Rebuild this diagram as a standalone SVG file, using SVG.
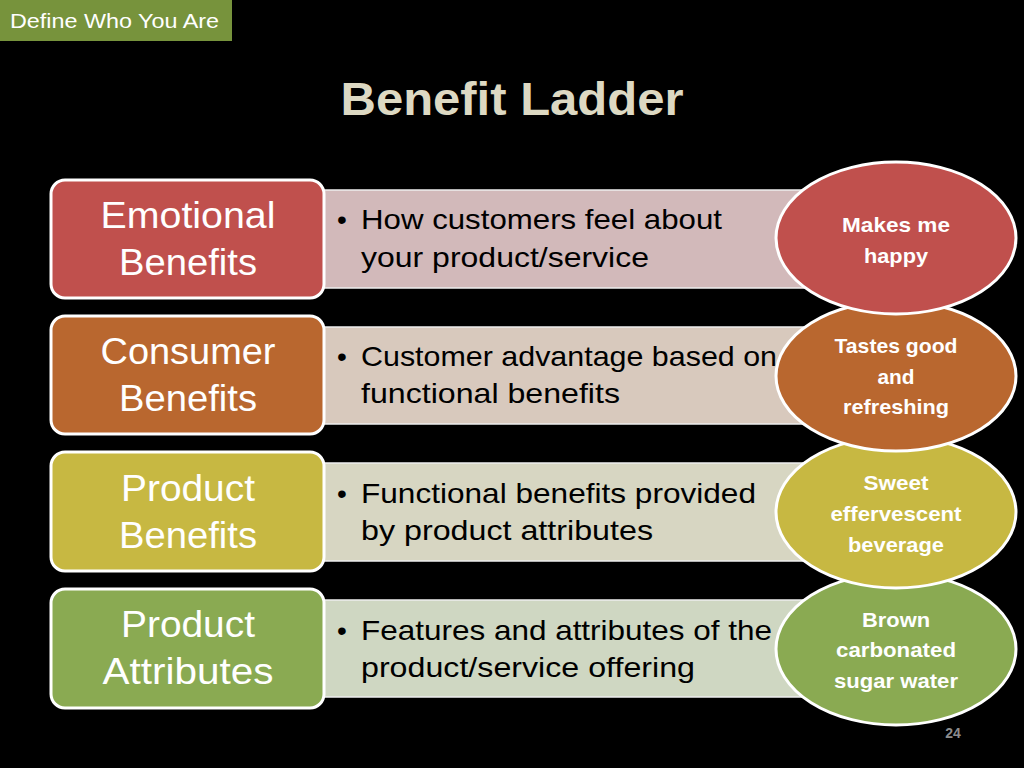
<svg xmlns="http://www.w3.org/2000/svg" width="1024" height="768" viewBox="0 0 1024 768">
<style>
.lbox{stroke:#FFFFFF;stroke-width:3}
.rbox{stroke:#EEEEEE;stroke-width:1.5}
.ell{stroke:#FFFFFF;stroke-width:3}
.lt{font-family:"Liberation Sans",Arial,sans-serif;font-size:36px;fill:#FFFFFF;text-anchor:middle}
.rt{font-family:"Liberation Sans",Arial,sans-serif;font-size:28px;fill:#000000}
.et{font-family:"Liberation Sans",Arial,sans-serif;font-size:21px;font-weight:bold;fill:#FFFFFF;text-anchor:middle}
</style>
<rect x="0" y="0" width="1024" height="768" fill="#000000"/>
<g id="header">
<rect x="0" y="0" width="232" height="41" fill="#77933C"/>
<text x="10" y="28" font-family="Liberation Sans,Arial,sans-serif" font-size="20" fill="#FFFFFF" textLength="209" lengthAdjust="spacingAndGlyphs">Define Who You Are</text>
</g>
<text id="title" x="512" y="115" font-family="Liberation Sans,Arial,sans-serif" font-size="46" font-weight="bold" fill="#DDD9C3" text-anchor="middle" textLength="343" lengthAdjust="spacingAndGlyphs">Benefit Ladder</text>

<g id="row-emotional-desc">
<rect class="rbox" x="300" y="190" width="515" height="98" rx="10" fill="#D2B9BA"/>
<text class="rt" x="337" y="229">•</text>
<text class="rt" x="361" y="229" textLength="361" lengthAdjust="spacingAndGlyphs">How customers feel about</text>
<text class="rt" x="361" y="267" textLength="288" lengthAdjust="spacingAndGlyphs">your product/service</text>
</g>
<g id="row-consumer-desc">
<rect class="rbox" x="300" y="327" width="515" height="97" rx="10" fill="#D8C9BD"/>
<text class="rt" x="337" y="366">•</text>
<text class="rt" x="361" y="366" textLength="416" lengthAdjust="spacingAndGlyphs">Customer advantage based on</text>
<text class="rt" x="361" y="403" textLength="259" lengthAdjust="spacingAndGlyphs">functional benefits</text>
</g>
<g id="row-product-desc">
<rect class="rbox" x="300" y="463" width="515" height="98" rx="10" fill="#D7D6C2"/>
<text class="rt" x="337" y="503">•</text>
<text class="rt" x="361" y="503" textLength="395" lengthAdjust="spacingAndGlyphs">Functional benefits provided</text>
<text class="rt" x="361" y="540" textLength="292" lengthAdjust="spacingAndGlyphs">by product attributes</text>
</g>
<g id="row-attributes-desc">
<rect class="rbox" x="300" y="600" width="515" height="97" rx="10" fill="#CFD7C2"/>
<text class="rt" x="337" y="640">•</text>
<text class="rt" x="361" y="640" textLength="411" lengthAdjust="spacingAndGlyphs">Features and attributes of the</text>
<text class="rt" x="361" y="677" textLength="334" lengthAdjust="spacingAndGlyphs">product/service offering</text>
</g>

<g id="emotional-benefits">
<rect class="lbox" x="51" y="180" width="273" height="118" rx="14" fill="#C0504D"/>
<text class="lt" x="188" y="228" textLength="175" lengthAdjust="spacingAndGlyphs">Emotional</text>
<text class="lt" x="188" y="275" textLength="138" lengthAdjust="spacingAndGlyphs">Benefits</text>
</g>
<g id="consumer-benefits">
<rect class="lbox" x="51" y="316" width="273" height="118" rx="14" fill="#B9672F"/>
<text class="lt" x="188" y="364" textLength="175" lengthAdjust="spacingAndGlyphs">Consumer</text>
<text class="lt" x="188" y="411" textLength="138" lengthAdjust="spacingAndGlyphs">Benefits</text>
</g>
<g id="product-benefits">
<rect class="lbox" x="51" y="452" width="273" height="119" rx="14" fill="#C7B842"/>
<text class="lt" x="188" y="501" textLength="134" lengthAdjust="spacingAndGlyphs">Product</text>
<text class="lt" x="188" y="548" textLength="138" lengthAdjust="spacingAndGlyphs">Benefits</text>
</g>
<g id="product-attributes">
<rect class="lbox" x="51" y="589" width="273" height="119" rx="14" fill="#8AAA52"/>
<text class="lt" x="188" y="637" textLength="134" lengthAdjust="spacingAndGlyphs">Product</text>
<text class="lt" x="188" y="684" textLength="171" lengthAdjust="spacingAndGlyphs">Attributes</text>
</g>

<g id="ellipse-attributes">
<ellipse class="ell" cx="896" cy="649" rx="120" ry="76" fill="#8AAA52"/>
<text class="et" x="896" y="627" textLength="68" lengthAdjust="spacingAndGlyphs">Brown</text>
<text class="et" x="896" y="657" textLength="120" lengthAdjust="spacingAndGlyphs">carbonated</text>
<text class="et" x="896" y="688" textLength="124" lengthAdjust="spacingAndGlyphs">sugar water</text>
</g>
<g id="ellipse-product">
<ellipse class="ell" cx="896" cy="512" rx="120" ry="76" fill="#C7B842"/>
<text class="et" x="896" y="490" textLength="65" lengthAdjust="spacingAndGlyphs">Sweet</text>
<text class="et" x="896" y="521" textLength="131" lengthAdjust="spacingAndGlyphs">effervescent</text>
<text class="et" x="896" y="552" textLength="96" lengthAdjust="spacingAndGlyphs">beverage</text>
</g>
<g id="ellipse-consumer">
<ellipse class="ell" cx="896" cy="376" rx="120" ry="75" fill="#B9672F"/>
<text class="et" x="896" y="353" textLength="123" lengthAdjust="spacingAndGlyphs">Tastes good</text>
<text class="et" x="896" y="384" textLength="37" lengthAdjust="spacingAndGlyphs">and</text>
<text class="et" x="896" y="414" textLength="106" lengthAdjust="spacingAndGlyphs">refreshing</text>
</g>
<g id="ellipse-emotional">
<ellipse class="ell" cx="896" cy="238" rx="120" ry="76" fill="#C0504D"/>
<text class="et" x="896" y="232" textLength="108" lengthAdjust="spacingAndGlyphs">Makes me</text>
<text class="et" x="896" y="263" textLength="64" lengthAdjust="spacingAndGlyphs">happy</text>
</g>
<g id="connectors"/>
<text id="page-number" x="953" y="738" font-family="Liberation Sans,Arial,sans-serif" font-size="14" font-weight="bold" fill="#8C8C8C" text-anchor="middle">24</text>
</svg>
